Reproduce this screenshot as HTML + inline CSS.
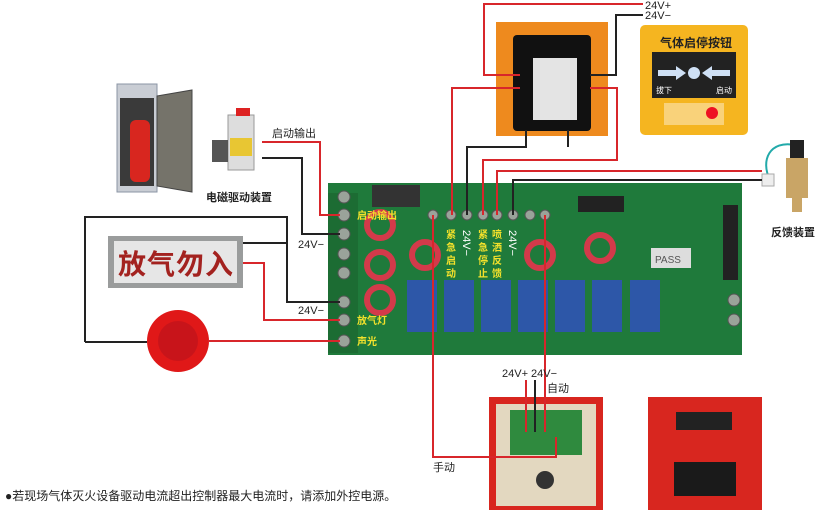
<!DOCTYPE html>
<html><head><meta charset="utf-8"><style>
html,body{margin:0;padding:0;background:#fff;}
svg{display:block;font-family:"Liberation Sans","Noto Sans CJK SC",sans-serif;}
</style></head><body>
<svg width="830" height="517" viewBox="0 0 830 517" xmlns="http://www.w3.org/2000/svg">
<rect width="830" height="517" fill="#fff"/>
<!-- cabinet -->
<rect x="117" y="84" width="40" height="108" fill="#c9cdd4" stroke="#8b95a5"/>
<rect x="120" y="98" width="34" height="88" fill="#3a3a3a"/>
<rect x="130" y="120" width="20" height="62" rx="6" fill="#d8261f"/>
<polygon points="157,96 192,90 192,192 157,186" fill="#75736a" stroke="#444"/>
<!-- solenoid -->
<rect x="228" y="115" width="26" height="55" fill="#ddd" stroke="#999"/>
<rect x="230" y="138" width="22" height="18" fill="#e8c633"/>
<rect x="236" y="108" width="14" height="8" fill="#d22"/>
<rect x="212" y="140" width="16" height="22" fill="#555"/>
<text x="206" y="201" font-size="11" font-weight="bold" fill="#222">电磁驱动装置</text>
<!-- sign -->
<rect x="108" y="236" width="135" height="52" fill="#9a9c9c"/>
<rect x="114" y="241" width="123" height="42" fill="#e6e6e6"/>
<text x="118" y="274" font-size="28" font-weight="bold" fill="#a3221f" letter-spacing="1">放气勿入</text>
<!-- strobe -->
<circle cx="178" cy="341" r="31" fill="#e01818"/>
<circle cx="178" cy="341" r="20" fill="#c8141a"/>
<!-- board -->
<rect x="328" y="183" width="414" height="172" fill="#1f7a3b"/>
<rect x="328" y="193" width="30" height="160" fill="#1c6c33"/>
<g fill="#9aa39a" stroke="#555">
<circle cx="344" cy="197" r="6"/><circle cx="344" cy="215" r="6"/><circle cx="344" cy="234" r="6"/><circle cx="344" cy="254" r="6"/><circle cx="344" cy="273" r="6"/><circle cx="344" cy="302" r="6"/><circle cx="344" cy="320" r="6"/><circle cx="344" cy="341" r="6"/>
<circle cx="433" cy="215" r="5"/><circle cx="451" cy="215" r="5"/><circle cx="467" cy="215" r="5"/><circle cx="483" cy="215" r="5"/><circle cx="497" cy="215" r="5"/><circle cx="513" cy="215" r="5"/><circle cx="530" cy="215" r="5"/><circle cx="545" cy="215" r="5"/>
<circle cx="734" cy="300" r="6"/><circle cx="734" cy="320" r="6"/>
</g>
<rect x="372" y="185" width="48" height="22" fill="#333"/>
<rect x="578" y="196" width="46" height="16" fill="#222"/>
<rect x="723" y="205" width="15" height="75" fill="#222"/>
<rect x="651" y="248" width="40" height="20" fill="#ddd"/><text x="655" y="263" font-size="10" fill="#555">PASS</text>
<g fill="#2d57a8"><rect x="407" y="280" width="30" height="52"/><rect x="444" y="280" width="30" height="52"/><rect x="481" y="280" width="30" height="52"/><rect x="518" y="280" width="30" height="52"/><rect x="555" y="280" width="30" height="52"/><rect x="592" y="280" width="30" height="52"/><rect x="630" y="280" width="30" height="52"/></g>
<g fill="none" stroke="#d33a4a" stroke-width="6"><circle cx="380" cy="225" r="13"/><circle cx="380" cy="265" r="13"/><circle cx="380" cy="300" r="13"/><circle cx="425" cy="255" r="13"/><circle cx="540" cy="255" r="13"/><circle cx="600" cy="248" r="13"/></g>
<g font-size="10" font-weight="bold" fill="#f3e12b">
<text x="357" y="219">启动输出</text><text x="357" y="324">放气灯</text><text x="357" y="345">声光</text>
<text x="446" y="238">紧</text><text x="446" y="251">急</text><text x="446" y="264">启</text><text x="446" y="277">动</text>
<text x="478" y="238">紧</text><text x="478" y="251">急</text><text x="478" y="264">停</text><text x="478" y="277">止</text>
<text x="492" y="238">喷</text><text x="492" y="251">洒</text><text x="492" y="264">反</text><text x="492" y="277">馈</text>
</g>
<g font-size="11" fill="#fff"><text transform="translate(463,230) rotate(90)">24V−</text><text transform="translate(509,230) rotate(90)">24V−</text></g>
<!-- orange module -->
<rect x="496" y="22" width="112" height="114" fill="#ee8a1e"/>
<rect x="513" y="35" width="78" height="96" rx="4" fill="#111"/>
<rect x="533" y="58" width="44" height="62" fill="#e4e4e4"/>
<!-- yellow button -->
<rect x="640" y="25" width="108" height="110" rx="5" fill="#f5b520"/>
<text x="660" y="47" font-size="12" font-weight="bold" fill="#222">气体启停按钮</text>
<rect x="652" y="52" width="84" height="46" fill="#222"/>
<circle cx="694" cy="73" r="6" fill="#cfe0f5"/>
<polygon points="658,70 676,70 676,66 686,73 676,80 676,76 658,76" fill="#cfe0f5"/>
<polygon points="730,70 712,70 712,66 702,73 712,80 712,76 730,76" fill="#cfe0f5"/>
<text x="656" y="93" font-size="8" fill="#fff">拔下</text><text x="716" y="93" font-size="8" fill="#fff">启动</text>
<rect x="664" y="103" width="60" height="22" fill="#f9d27a"/><circle cx="712" cy="113" r="6" fill="#e12"/>
<!-- feedback device -->
<path d="M770 180 C760 160,770 140,795 145" stroke="#2aa" stroke-width="2" fill="none"/>
<rect x="762" y="174" width="12" height="12" fill="#eee" stroke="#aaa"/>
<rect x="790" y="140" width="14" height="18" fill="#222"/>
<rect x="786" y="158" width="22" height="40" fill="#c9a566"/>
<rect x="792" y="198" width="10" height="14" fill="#c9a566"/>
<text x="771" y="236" font-size="11" font-weight="bold" fill="#222">反馈装置</text>
<!-- manual box -->
<rect x="489" y="397" width="114" height="113" fill="#d8261f"/>
<rect x="496" y="404" width="100" height="102" fill="#e3d8c0"/>
<rect x="510" y="410" width="72" height="45" fill="#2f8a3e"/>
<circle cx="545" cy="480" r="9" fill="#333"/>
<!-- right panel -->
<rect x="648" y="397" width="114" height="113" fill="#d8261f"/>
<rect x="676" y="412" width="56" height="18" fill="#222"/>
<rect x="674" y="462" width="62" height="34" fill="#1a1a1a"/>
<!-- wires -->
<g fill="none" stroke-width="2">
<path d="M262 142H320V215H340" stroke="#d8262b"/>
<path d="M262 158H302V234H340" stroke="#222"/>
<path d="M85 342V217H287V302H340" stroke="#222"/>
<path d="M243 243H287" stroke="#222"/>
<path d="M243 263H264V320H340" stroke="#d8262b"/>
<path d="M208 341H340" stroke="#d8262b"/>
<path d="M85 342H147" stroke="#222"/>
<path d="M643 4H484V75H520" stroke="#d8262b"/>
<path d="M643 15H616V75H590" stroke="#222"/>
<path d="M520 88H452V215" stroke="#d8262b"/>
<path d="M590 88H617V160H483V215" stroke="#d8262b"/>
<path d="M526 130V147H467V215" stroke="#222"/>
<path d="M568 130V147" stroke="#222"/>
<path d="M762 171H497V215" stroke="#d8262b"/>
<path d="M762 180H513V215" stroke="#222"/>
<path d="M433 215V457H556V437" stroke="#d8262b"/>
<path d="M545 215V432" stroke="#d8262b"/>
<path d="M526 380V432" stroke="#d8262b"/>
<path d="M535 380V432" stroke="#222"/>
</g>
<g font-size="11" fill="#222">
<text x="272" y="137">启动输出</text>
<text x="298" y="248">24V−</text><text x="298" y="314">24V−</text>
<text x="645" y="9">24V+</text><text x="645" y="19">24V−</text>
<text x="502" y="377">24V+ 24V−</text><text x="547" y="392">自动</text><text x="433" y="471">手动</text>
</g>
<text x="5" y="500" font-size="12" fill="#222">●若现场气体灭火设备驱动电流超出控制器最大电流时，请添加外控电源。</text>
</svg>
</body></html>
